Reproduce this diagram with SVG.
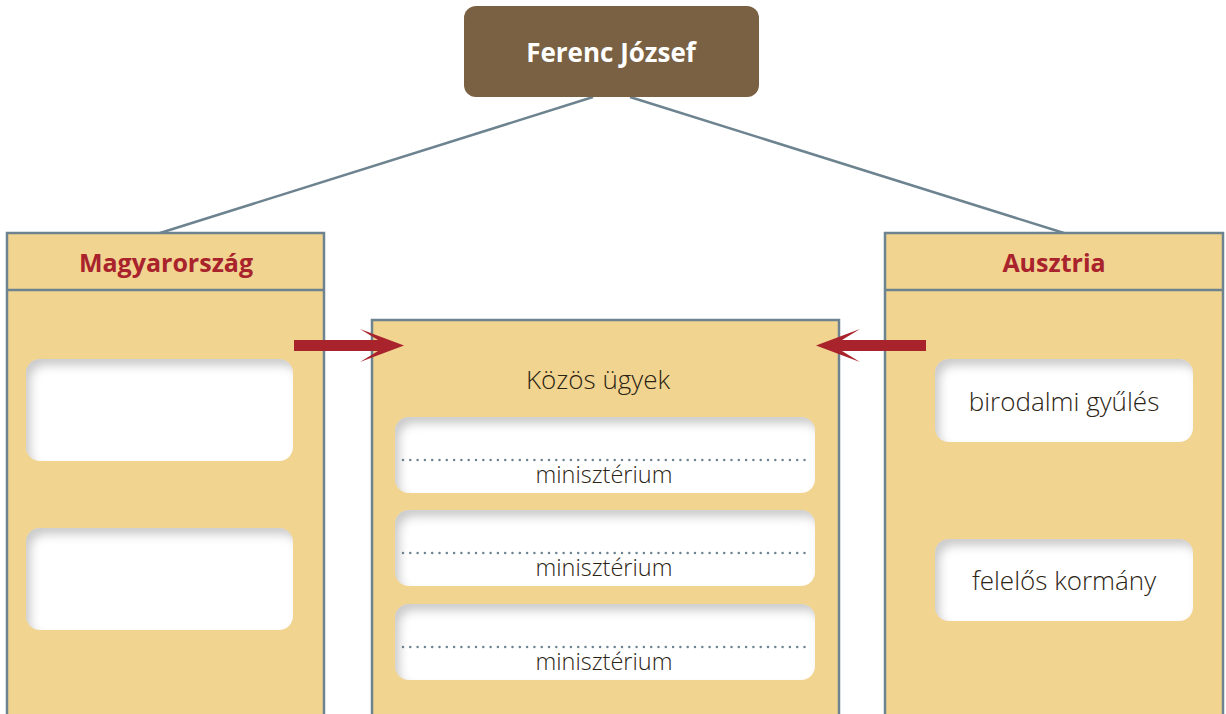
<svg xmlns="http://www.w3.org/2000/svg" width="1226" height="714" viewBox="0 0 1226 714">
<style>
.panel{fill:#f2d491;stroke:#6d8490;stroke-width:2.5}
.conn{stroke:#6d8490;stroke-width:2.5;fill:none}
.card{fill:#fff;filter:url(#inset)}
.hdr{font-family:"Open Sans","Noto Sans",sans-serif;font-weight:700;font-size:25px;fill:#a8232c;text-anchor:middle}
.txt{font-family:"Open Sans","Noto Sans",sans-serif;font-weight:300;fill:#2b2414;text-anchor:middle}
.dots{stroke:#6d8490;stroke-width:2.5;stroke-linecap:round;stroke-dasharray:0 7.3;fill:none}
.arrow{fill:#a8232c}
</style>
<defs>
<filter id="inset" x="-20%" y="-20%" width="140%" height="140%">
<feComponentTransfer in="SourceAlpha" result="inv"><feFuncA type="table" tableValues="1 0"/></feComponentTransfer>
<feGaussianBlur in="inv" stdDeviation="5"/>
<feOffset dx="5" dy="7" result="off"/>
<feFlood flood-color="#000" flood-opacity="0.4"/>
<feComposite in2="off" operator="in"/>
<feComposite in2="SourceAlpha" operator="in" result="sh"/>
<feMerge><feMergeNode in="SourceGraphic"/><feMergeNode in="sh"/></feMerge>
</filter>
</defs>
<rect width="1226" height="714" fill="#fff"/>
<g id="connectors">
<line class="conn" x1="593" y1="97" x2="160" y2="233"/>
<line class="conn" x1="630" y1="97" x2="1064" y2="233"/>
</g>
<g id="ferenc-jozsef">
<rect x="464" y="6" width="295" height="91" rx="12" fill="#7a6143"/>
<text x="611" y="62" font-family="'Open Sans','Noto Sans',sans-serif" font-weight="700" font-size="26" fill="#fff" text-anchor="middle">Ferenc József</text>
</g>
<g id="magyarorszag">
<rect class="panel" x="7" y="233" width="317" height="490"/>
<line class="conn" x1="7" y1="290" x2="324" y2="290"/>
<text class="hdr" x="166" y="272">Magyarország</text>
<rect class="card" x="26" y="359" width="267" height="102" rx="14"/>
<rect class="card" x="26" y="528" width="267" height="102" rx="14"/>
</g>
<g id="kozos-ugyek">
<rect class="panel" x="372" y="320" width="467" height="403"/>
<text class="txt" x="598" y="389" font-size="26">Közös ügyek</text>
<rect class="card" x="395" y="417" width="420" height="76" rx="14"/>
<line class="dots" x1="403" y1="460" x2="805" y2="460"/>
<text class="txt" x="604" y="483" font-size="23.5">minisztérium</text>
<rect class="card" x="395" y="510" width="420" height="76" rx="14"/>
<line class="dots" x1="403" y1="553" x2="805" y2="553"/>
<text class="txt" x="604" y="576" font-size="23.5">minisztérium</text>
<rect class="card" x="395" y="604" width="420" height="76" rx="14"/>
<line class="dots" x1="403" y1="647" x2="805" y2="647"/>
<text class="txt" x="604" y="670" font-size="23.5">minisztérium</text>
</g>
<g id="ausztria">
<rect class="panel" x="885" y="233" width="338" height="490"/>
<line class="conn" x1="885" y1="290" x2="1223" y2="290"/>
<text class="hdr" x="1054" y="272">Ausztria</text>
<rect class="card" x="935" y="359" width="258" height="83" rx="14"/>
<text class="txt" x="1064" y="411" font-size="26">birodalmi gyűlés</text>
<rect class="card" x="935" y="539" width="258" height="82" rx="14"/>
<text class="txt" x="1064" y="590" font-size="26">felelős kormány</text>
</g>
<g id="arrows">
<polygon class="arrow" points="294,340 378,340 360,329 404,345.5 360,362 378,351 294,351"/>
<polygon class="arrow" points="926,340 842,340 860,329 816,345.5 860,362 842,351 926,351"/>
</g>
</svg>
